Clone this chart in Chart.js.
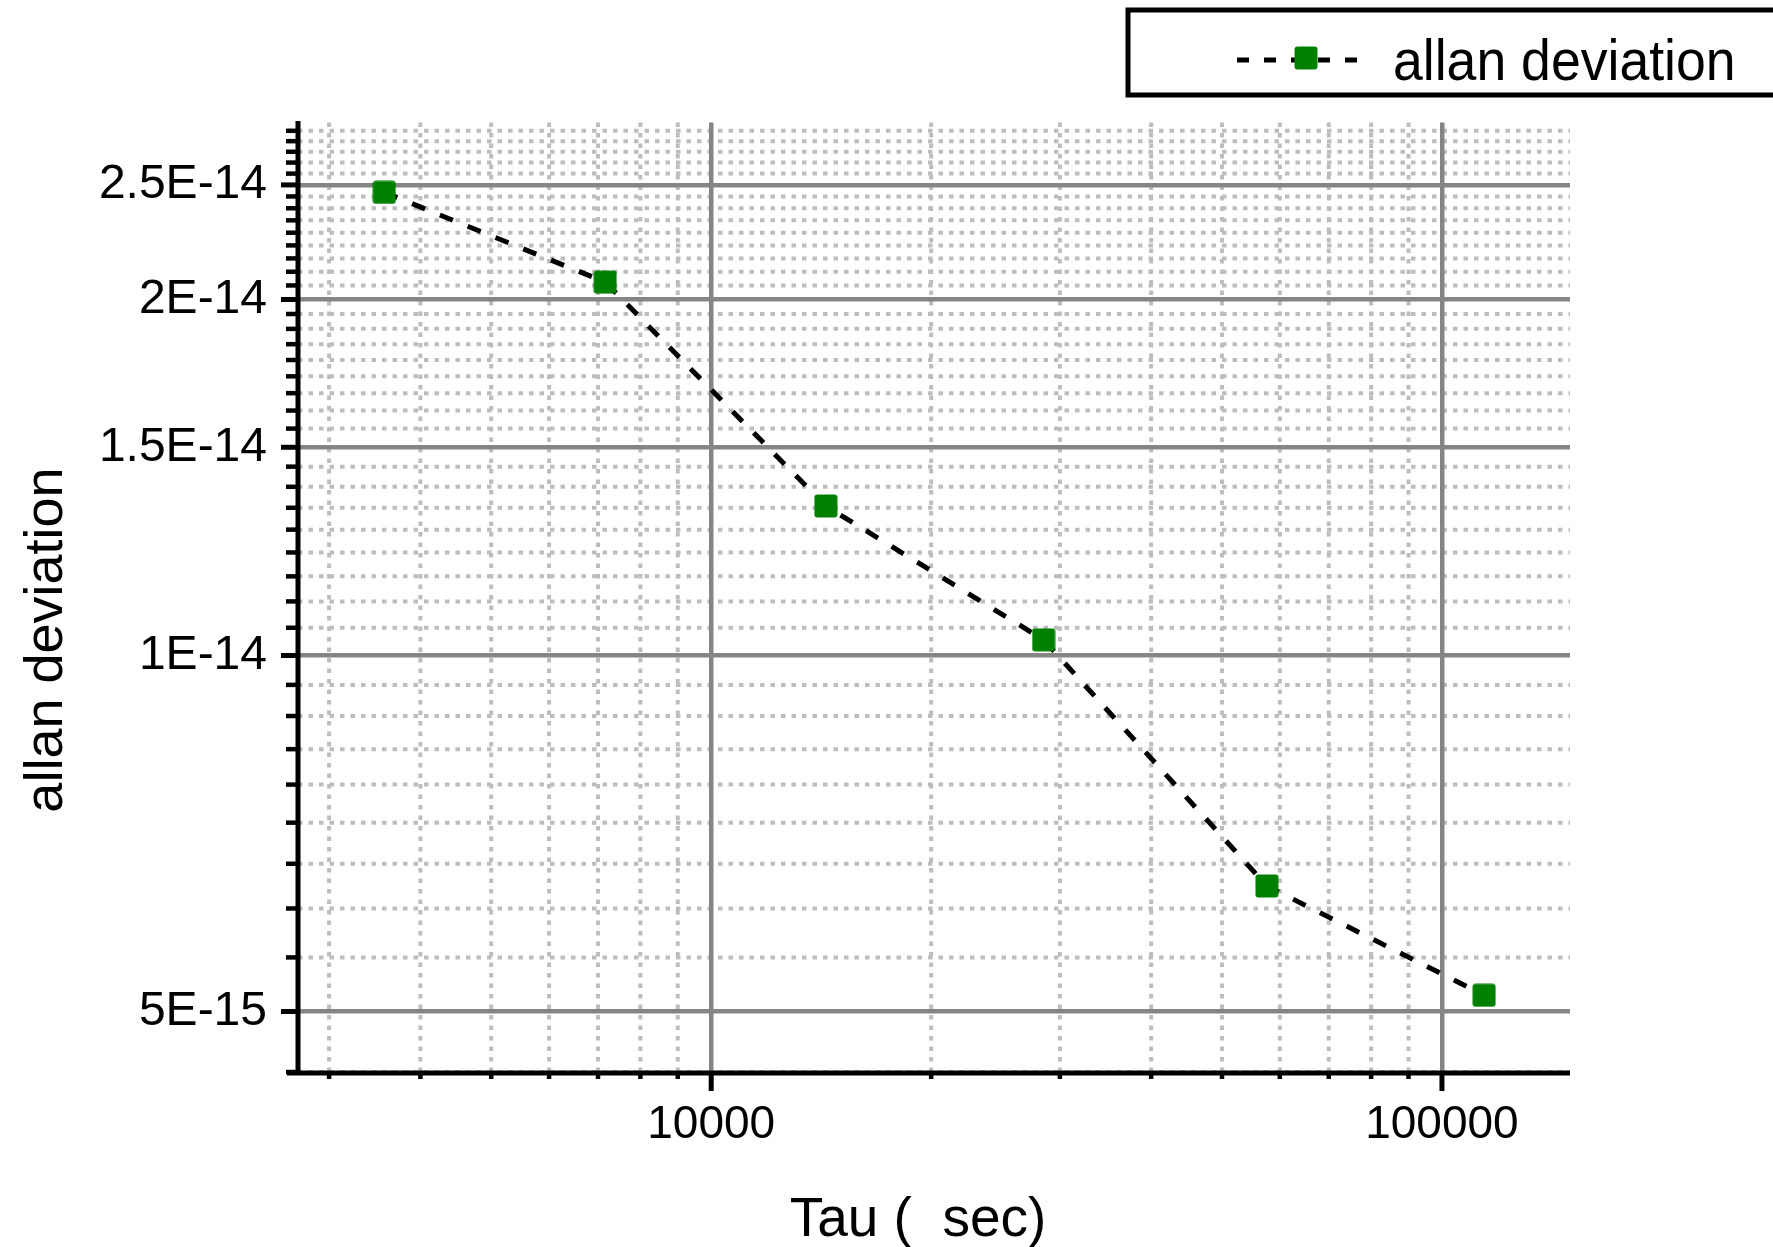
<!DOCTYPE html>
<html>
<head>
<meta charset="utf-8">
<title>allan deviation</title>
<script src="https://cdn.jsdelivr.net/npm/chart.js@4.4.1/dist/chart.umd.min.js"></script>
<style>
  html, body { margin: 0; padding: 0; background: #fff; }
  #chart { display: block; }
</style>
</head>
<body>
<canvas id="chart" width="1773" height="1247"></canvas>
<script>
'use strict'

// averaging time (s) and allan deviation
const tau = [3570, 7160, 14350, 28500, 57600, 114200]
const adev = [2.464e-14, 2.069e-14, 1.338e-14, 1.031e-14, 6.385e-15, 5.161e-15]

const xTickValues = [10000, 100000]
const xTickLabels = ['10000', '100000']
const xMinorTicks = [3000, 4000, 5000, 6000, 7000, 8000, 9000,
    20000, 30000, 40000, 50000, 60000, 70000, 80000, 90000]

const yTickValues = [5e-15, 1e-14, 1.5e-14, 2e-14, 2.5e-14]
const yTickLabels = ['5E-15', '1E-14', '1.5E-14', '2E-14', '2.5E-14']

// 8 minor ticks between each pair of major ticks
const yMinorTicks = []
for (let i = 0; i <= yTickValues.length; i++) {
    const lo = i === 0 ? 0 : yTickValues[i - 1]
    const hi = lo + 5e-15
    for (let k = 1; k < 9; k++) {
        yMinorTicks.push(lo + (hi - lo) * k / 9)
    }
}

const FONT = '"Liberation Sans", Arial, sans-serif'
const GREEN = '#008000'

const makeMarker = function(size) {
    const c = document.createElement('canvas')
    c.width = size
    c.height = size
    const g = c.getContext('2d')
    g.fillStyle = GREEN
    g.beginPath()
    g.roundRect(0.5, 0.5, size - 1, size - 1, 3)
    g.fill()
    return c
}
const marker = makeMarker(24)

const inRange = function(scale, v) {
    return v >= scale.min && v <= scale.max
}

// minor grid goes under the major grid lines
const minorGrid = {
    id: 'minorGrid',
    beforeDraw(chart) {
        const {ctx, chartArea: a, scales: {x, y}} = chart
        ctx.save()
        ctx.strokeStyle = '#bdbdbd'
        ctx.lineWidth = 4
        ctx.setLineDash([4.5, 6])
        yMinorTicks.filter(v => inRange(y, v)).forEach(v => {
            const py = y.getPixelForValue(v)
            ctx.beginPath()
            ctx.moveTo(a.left, py)
            ctx.lineTo(a.right, py)
            ctx.stroke()
        })
        xMinorTicks.filter(v => inRange(x, v)).forEach(v => {
            const px = x.getPixelForValue(v)
            ctx.beginPath()
            ctx.moveTo(px, a.top)
            ctx.lineTo(px, a.bottom)
            ctx.stroke()
        })
        ctx.restore()
    }
}

// axis lines, tick marks, titles and the legend box
const frame = {
    id: 'frame',
    beforeDatasetsDraw(chart) {
        const {ctx, chartArea: a, scales: {x, y}} = chart
        ctx.save()
        ctx.strokeStyle = '#000'
        ctx.lineCap = 'butt'

        ctx.lineWidth = 5
        yTickValues.filter(v => inRange(y, v)).forEach(v => {
            const py = y.getPixelForValue(v)
            ctx.beginPath()
            ctx.moveTo(a.left - 17, py)
            ctx.lineTo(a.left, py)
            ctx.stroke()
        })
        xTickValues.filter(v => inRange(x, v)).forEach(v => {
            const px = x.getPixelForValue(v)
            ctx.beginPath()
            ctx.moveTo(px, a.bottom)
            ctx.lineTo(px, a.bottom + 18)
            ctx.stroke()
        })

        ctx.lineWidth = 4.5
        yMinorTicks.filter(v => inRange(y, v)).forEach(v => {
            const py = y.getPixelForValue(v)
            ctx.beginPath()
            ctx.moveTo(a.left - 12, py)
            ctx.lineTo(a.left, py)
            ctx.stroke()
        })
        xMinorTicks.filter(v => inRange(x, v)).forEach(v => {
            const px = x.getPixelForValue(v)
            ctx.beginPath()
            ctx.moveTo(px, a.bottom)
            ctx.lineTo(px, a.bottom + 6)
            ctx.stroke()
        })

        ctx.lineWidth = 5
        ctx.beginPath()
        ctx.moveTo(a.left, a.top - 1.5)
        ctx.lineTo(a.left, a.bottom + 2.5)
        ctx.moveTo(a.left - 11, a.bottom)
        ctx.lineTo(a.right, a.bottom)
        ctx.stroke()
        ctx.restore()
    },
    afterDraw(chart) {
        const ctx = chart.ctx
        ctx.save()
        ctx.fillStyle = '#000'

        ctx.font = `55px ${FONT}`
        ctx.textAlign = 'center'
        ctx.textBaseline = 'alphabetic'
        ctx.fillText('Tau (  sec)', 918, 1236)

        ctx.save()
        ctx.translate(62, 640)
        ctx.rotate(-Math.PI / 2)
        ctx.font = `54px ${FONT}`
        ctx.fillText('allan deviation', 0, 0)
        ctx.restore()

        // legend
        ctx.fillStyle = '#fff'
        ctx.fillRect(1128, 10, 700, 85)
        ctx.strokeStyle = '#000'
        ctx.lineWidth = 5
        ctx.strokeRect(1128, 10, 700, 85)

        ctx.lineWidth = 5
        ctx.setLineDash([12, 15])
        ctx.beginPath()
        ctx.moveTo(1237, 60)
        ctx.lineTo(1366, 60)
        ctx.stroke()
        ctx.setLineDash([])
        ctx.drawImage(marker, 1306 - 12, 58 - 12)

        ctx.fillStyle = '#000'
        ctx.textAlign = 'left'
        ctx.font = `57px ${FONT}`
        ctx.save()
        ctx.translate(1393, 80)
        ctx.scale(0.94, 1)
        ctx.fillText(chart.data.datasets[0].label, 0, 0)
        ctx.restore()
        ctx.restore()
    }
}

const ctx = document.getElementById('chart')

new Chart(ctx, {
    type: 'line',
    data: {
        datasets: [{
            label: 'allan deviation',
            data: tau.map((t, i) => ({x: t, y: adev[i]})),
            borderColor: '#000',
            borderWidth: 5,
            borderDash: [14, 16],
            tension: 0,
            fill: false,
            pointStyle: marker,
            pointRadius: 12,
            pointHoverRadius: 12,
        }],
    },
    options: {
        responsive: false,
        animation: false,
        devicePixelRatio: 1,
        layout: {
            padding: {top: 122.5, right: 203, left: 0, bottom: 0},
        },
        plugins: {
            legend: {display: false},
            tooltip: {enabled: false},
        },
        scales: {
            x: {
                type: 'logarithmic',
                min: 2720,
                max: 149700,
                afterBuildTicks: (axis) => {
                    axis.ticks = xTickValues.map(v => ({value: v}))
                },
                afterFit: (axis) => {
                    axis.height = 174
                },
                ticks: {
                    callback: (v, i) => xTickLabels[i],
                    font: {family: FONT, size: 46},
                    color: '#000',
                    padding: 25,
                    maxRotation: 0,
                    autoSkip: false,
                },
                grid: {color: '#858585', lineWidth: 4.5, drawTicks: false},
                border: {display: false},
            },
            y: {
                type: 'logarithmic',
                min: 4.436e-15,
                max: 2.823e-14,
                afterBuildTicks: (axis) => {
                    axis.ticks = yTickValues.map(v => ({value: v}))
                },
                afterFit: (axis) => {
                    axis.width = 298
                },
                ticks: {
                    callback: (v, i) => yTickLabels[i],
                    font: {family: FONT, size: 48},
                    color: '#000',
                    padding: 31,
                    autoSkip: false,
                },
                grid: {color: '#858585', lineWidth: 4.5, drawTicks: false},
                border: {display: false},
            },
        },
    },
    plugins: [minorGrid, frame],
})
</script>
</body>
</html>
